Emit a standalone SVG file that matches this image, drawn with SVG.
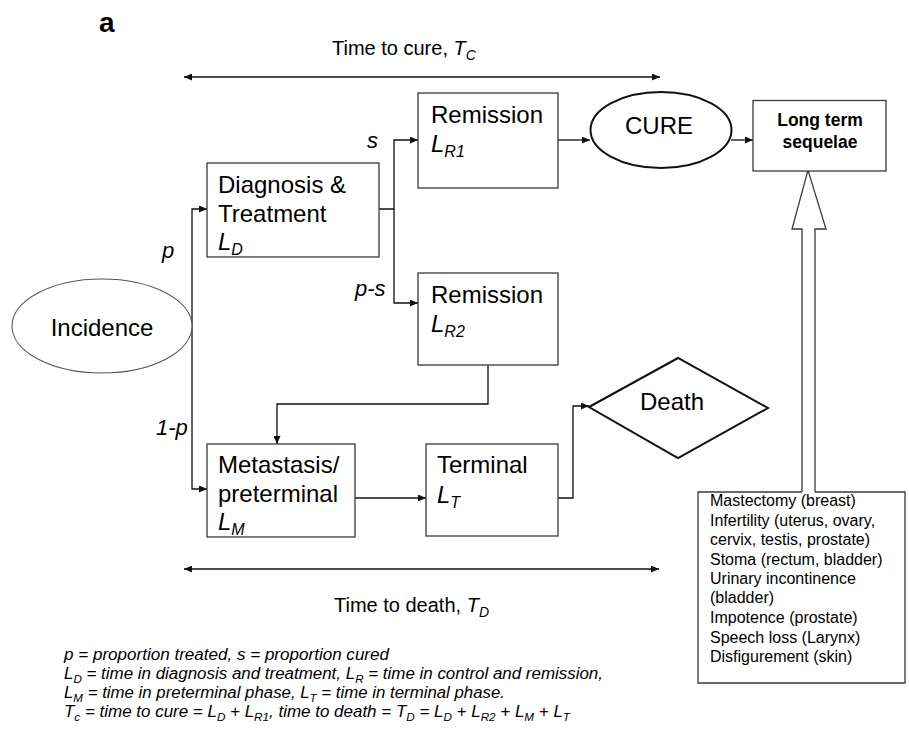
<svg xmlns="http://www.w3.org/2000/svg" width="909" height="731" viewBox="0 0 909 731">
<style>
text{font-family:"Liberation Sans",Arial,sans-serif;fill:#000}
.lbl{font-size:24px}
.it{font-style:italic}
.sub{font-size:16px}
.box{fill:#fff;stroke:#3a3a3a;stroke-width:1.3}
.con{fill:none;stroke:#111;stroke-width:1.3}
.leg{font-size:16px;font-style:italic}
.ls{font-size:11px}
</style>
<defs>
<marker id="ah" markerWidth="8" markerHeight="7" refX="8" refY="3.5" orient="auto-start-reverse" markerUnits="userSpaceOnUse">
<path d="M0,0 L8,3.5 L0,7 z" fill="#111"/>
</marker>
</defs>
<rect width="909" height="731" fill="#fff"/>
<text x="99" y="32" font-size="28" font-weight="bold">a</text>

<g id="connectors">
<path class="con" d="M184,77 H660" marker-start="url(#ah)" marker-end="url(#ah)"/>
<path class="con" d="M184,569 H659" marker-start="url(#ah)" marker-end="url(#ah)"/>
<path class="con" d="M192,326 V209 H207" marker-end="url(#ah)"/>
<path class="con" d="M192,326 V489 H207" marker-end="url(#ah)"/>
<path class="con" d="M379,209 H394 V140 H418" marker-end="url(#ah)"/>
<path class="con" d="M394,209 V303 H418" marker-end="url(#ah)"/>
<path class="con" d="M558,140 H590" marker-end="url(#ah)"/>
<path class="con" d="M731,140 H753" marker-end="url(#ah)"/>
<path class="con" d="M488,365 V404 H277 V444" marker-end="url(#ah)"/>
<path class="con" d="M355,498 H426" marker-end="url(#ah)"/>
<path class="con" d="M558,498 H573 V406 H589" marker-end="url(#ah)"/>
<path d="M802,492 V229 H792 L808,170 L826,229 H815 V492" fill="#fff" stroke="#3a3a3a" stroke-width="1.3"/>
</g>

<g id="labels">
<text x="332" y="55" font-size="20">Time to cure, <tspan class="it">T</tspan><tspan class="it" font-size="14" dy="5">C</tspan></text>
<text x="334" y="612" font-size="20">Time to death, <tspan class="it">T</tspan><tspan class="it" font-size="14" dy="5">D</tspan></text>
<text x="367" y="148" font-size="22" class="it">s</text>
<text x="162" y="258" font-size="22" class="it">p</text>
<text x="355" y="296" font-size="22" class="it">p-s</text>
<text x="156" y="435" font-size="22" class="it">1-p</text>
</g>

<g id="incidence">
<ellipse cx="102" cy="326" rx="90" ry="47" fill="#fff" stroke="#555" stroke-width="1.1"/>
<text x="102" y="336" class="lbl" text-anchor="middle">Incidence</text>
</g>

<g id="diagnosis">
<rect class="box" x="207" y="163" width="172" height="94"/>
<text x="218" y="193" class="lbl">Diagnosis &amp;</text>
<text x="218" y="222" class="lbl">Treatment</text>
<text x="218" y="250" class="lbl it">L<tspan class="sub" dy="5">D</tspan></text>
</g>

<g id="remission1">
<rect class="box" x="418" y="93" width="140" height="95"/>
<text x="431" y="123" class="lbl">Remission</text>
<text x="431" y="152" class="lbl it">L<tspan class="sub" dy="5">R1</tspan></text>
</g>

<g id="remission2">
<rect class="box" x="418" y="273" width="140" height="92"/>
<text x="431" y="303" class="lbl">Remission</text>
<text x="431" y="332" class="lbl it">L<tspan class="sub" dy="5">R2</tspan></text>
</g>

<g id="cure">
<ellipse cx="661" cy="130" rx="70.5" ry="38" fill="#fff" stroke="#111" stroke-width="2"/>
<text x="659" y="134" class="lbl" text-anchor="middle">CURE</text>
</g>

<g id="sequelae">
<rect class="box" x="753" y="100.5" width="133" height="70.5"/>
<text x="820" y="126" font-size="17.5" font-weight="bold" text-anchor="middle">Long term</text>
<text x="820" y="148" font-size="17.5" font-weight="bold" text-anchor="middle">sequelae</text>
</g>

<g id="metastasis">
<rect class="box" x="207" y="444" width="148" height="93"/>
<text x="218" y="473" class="lbl">Metastasis/</text>
<text x="218" y="502" class="lbl">preterminal</text>
<text x="218" y="530" class="lbl it">L<tspan class="sub" dy="5">M</tspan></text>
</g>

<g id="terminal">
<rect class="box" x="426" y="444" width="132" height="92"/>
<text x="437" y="473" class="lbl">Terminal</text>
<text x="437" y="503" class="lbl it">L<tspan class="sub" dy="5">T</tspan></text>
</g>

<g id="death">
<polygon points="589,407 678,358 768,408 678,458" fill="#fff" stroke="#111" stroke-width="2"/>
<text x="672" y="410" class="lbl" text-anchor="middle">Death</text>
</g>

<g id="sequelae-list">
<path d="M802,492 H698 V683 H905 V492 H815" fill="none" stroke="#3a3a3a" stroke-width="1.3"/>
<text x="710" font-size="16">
<tspan x="710" y="506">Mastectomy (breast)</tspan>
<tspan x="710" y="526">Infertility (uterus, ovary,</tspan>
<tspan x="710" y="545">cervix, testis, prostate)</tspan>
<tspan x="710" y="565">Stoma (rectum, bladder)</tspan>
<tspan x="710" y="584">Urinary incontinence</tspan>
<tspan x="710" y="603">(bladder)</tspan>
<tspan x="710" y="623">Impotence (prostate)</tspan>
<tspan x="710" y="643">Speech loss (Larynx)</tspan>
<tspan x="710" y="662">Disfigurement (skin)</tspan>
</text>
</g>

<g id="legend">
<text x="64" y="660" class="leg" textLength="325" lengthAdjust="spacingAndGlyphs">p = proportion treated, s = proportion cured</text>
<text x="64" y="679" class="leg" textLength="539" lengthAdjust="spacingAndGlyphs">L<tspan class="ls" dy="4">D</tspan><tspan dy="-4"> = time in diagnosis and treatment, L</tspan><tspan class="ls" dy="4">R</tspan><tspan dy="-4"> = time in control and remission,</tspan></text>
<text x="64" y="698" class="leg" textLength="441" lengthAdjust="spacingAndGlyphs">L<tspan class="ls" dy="4">M</tspan><tspan dy="-4"> = time in preterminal phase, L</tspan><tspan class="ls" dy="4">T</tspan><tspan dy="-4"> = time in terminal phase.</tspan></text>
<text x="64" y="717" class="leg" textLength="506" lengthAdjust="spacingAndGlyphs">T<tspan class="ls" dy="4">c</tspan><tspan dy="-4"> = time to cure = L</tspan><tspan class="ls" dy="4">D</tspan><tspan dy="-4"> + L</tspan><tspan class="ls" dy="4">R1</tspan><tspan dy="-4">, time to death = T</tspan><tspan class="ls" dy="4">D</tspan><tspan dy="-4"> = L</tspan><tspan class="ls" dy="4">D</tspan><tspan dy="-4"> + L</tspan><tspan class="ls" dy="4">R2</tspan><tspan dy="-4"> + L</tspan><tspan class="ls" dy="4">M</tspan><tspan dy="-4"> + L</tspan><tspan class="ls" dy="4">T</tspan></text>
</g>
</svg>
